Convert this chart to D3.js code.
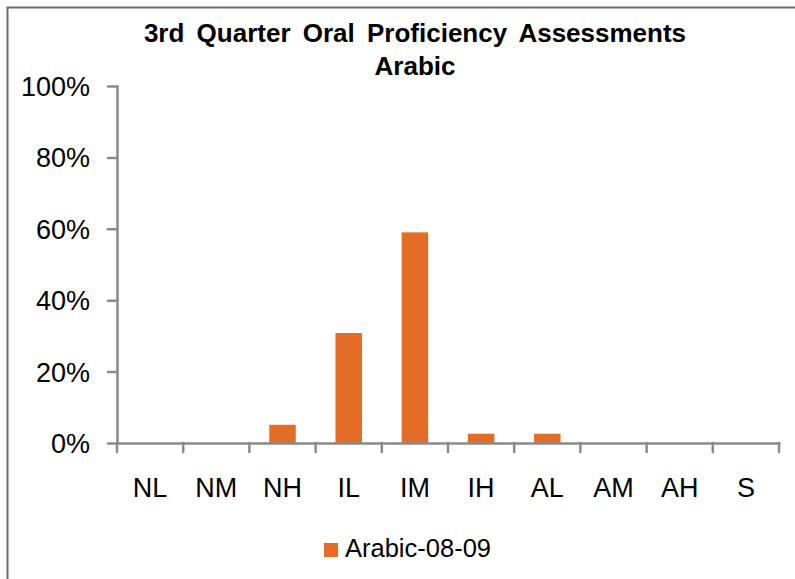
<!DOCTYPE html>
<html>
<head>
<meta charset="utf-8">
<script src="https://cdn.jsdelivr.net/npm/d3@7"></script>
<style>
	body { margin: 0; background: #fff; }
	svg { display: block; font-family: "Liberation Sans", Arial, Helvetica, sans-serif; }
</style>
</head>
<body>
<script>
(function () {

// chart data
var levels = ["NL", "NM", "NH", "IL", "IM", "IH", "AL", "AM", "AH", "S"];
var arabic0809 = [0, 0, 5.1, 30.8, 59.0, 2.6, 2.6, 0, 0, 0];
var yTicks = [0, 20, 40, 60, 80, 100];
var titleLines = ["3rd Quarter Oral Proficiency Assessments", "Arabic"];
var seriesName = "Arabic-08-09";

var W = 795, H = 579;
var axisGrey = "#8a8a8a", barColor = "#e36c26";

var svg = d3.select("body").append("svg").attr("width", W).attr("height", H);
svg.append("rect").attr("width", W).attr("height", H).attr("fill", "#fff");

// chart area frame (runs off the right/bottom of the picture)
svg.append("rect")
	.attr("x", 7.5).attr("y", 7.5)
	.attr("width", W + 20).attr("height", H + 20)
	.attr("fill", "none").attr("stroke", "#6a6a6a").attr("stroke-width", 2);

var x = d3.scaleBand().domain(levels).range([117, 779]).padding(0);
var y = d3.scaleLinear().domain([0, 100]).range([443, 86]);

// title
svg.append("text")
	.attr("x", 415).attr("y", 41.5)
	.attr("text-anchor", "middle")
	.attr("fill", "#000")
	.style("font-weight", "bold").style("font-size", "26px")
	.style("word-spacing", "5px")
	.selectAll("tspan").data(titleLines).enter().append("tspan")
	.attr("x", 415).attr("dy", function (d, i) { return i ? 33.5 : 0; })
	.text(function (d) { return d; });

// bars
svg.selectAll(".bar").data(levels).enter().append("rect")
	.attr("class", "bar")
	.attr("x", function (d) { return x(d) + x.bandwidth() * 0.3; })
	.attr("width", x.bandwidth() * 0.4)
	.attr("y", function (d, i) { return y(arabic0809[i]); })
	.attr("height", function (d, i) { return y(0) - y(arabic0809[i]); })
	.attr("fill", barColor);

// y axis
var yAxis = svg.append("g").attr("transform", "translate(117,0)")
	.call(d3.axisLeft(y).tickValues(yTicks)
		.tickFormat(function (d) { return d + "%"; })
		.tickSize(9).tickSizeOuter(0).tickPadding(18));

// x axis: labels at band centres, tick marks at band edges
var xAxis = svg.append("g").attr("transform", "translate(0,443)")
	.call(d3.axisBottom(x).tickSize(0).tickSizeOuter(0).tickPadding(35));
xAxis.selectAll(".tick line").remove();

var edges = levels.map(function (d) { return x(d); }).concat([x.range()[1]]);
xAxis.selectAll(".edge").data(edges).enter().append("line")
	.attr("class", "edge")
	.attr("x1", function (d) { return d; }).attr("x2", function (d) { return d; })
	.attr("y1", 0).attr("y2", 9);

svg.selectAll(".domain, .tick line, .edge")
	.attr("stroke", axisGrey).attr("stroke-width", 2.5).attr("stroke-linecap", "round");
svg.selectAll(".tick text")
	.attr("fill", "#000").style("font-size", "27px").style("font-family", "inherit");
xAxis.selectAll(".tick text").attr("dy", "0.71em");
yAxis.selectAll(".tick text").attr("dy", "0.35em");

// legend
var legend = svg.append("g").attr("transform", "translate(324,543)");
legend.append("rect").attr("width", 14).attr("height", 14).attr("fill", barColor);
legend.append("text")
	.attr("x", 21).attr("y", 13.5)
	.style("font-size", "25.5px").attr("fill", "#000")
	.text(seriesName);

})();
</script>
</body>
</html>
